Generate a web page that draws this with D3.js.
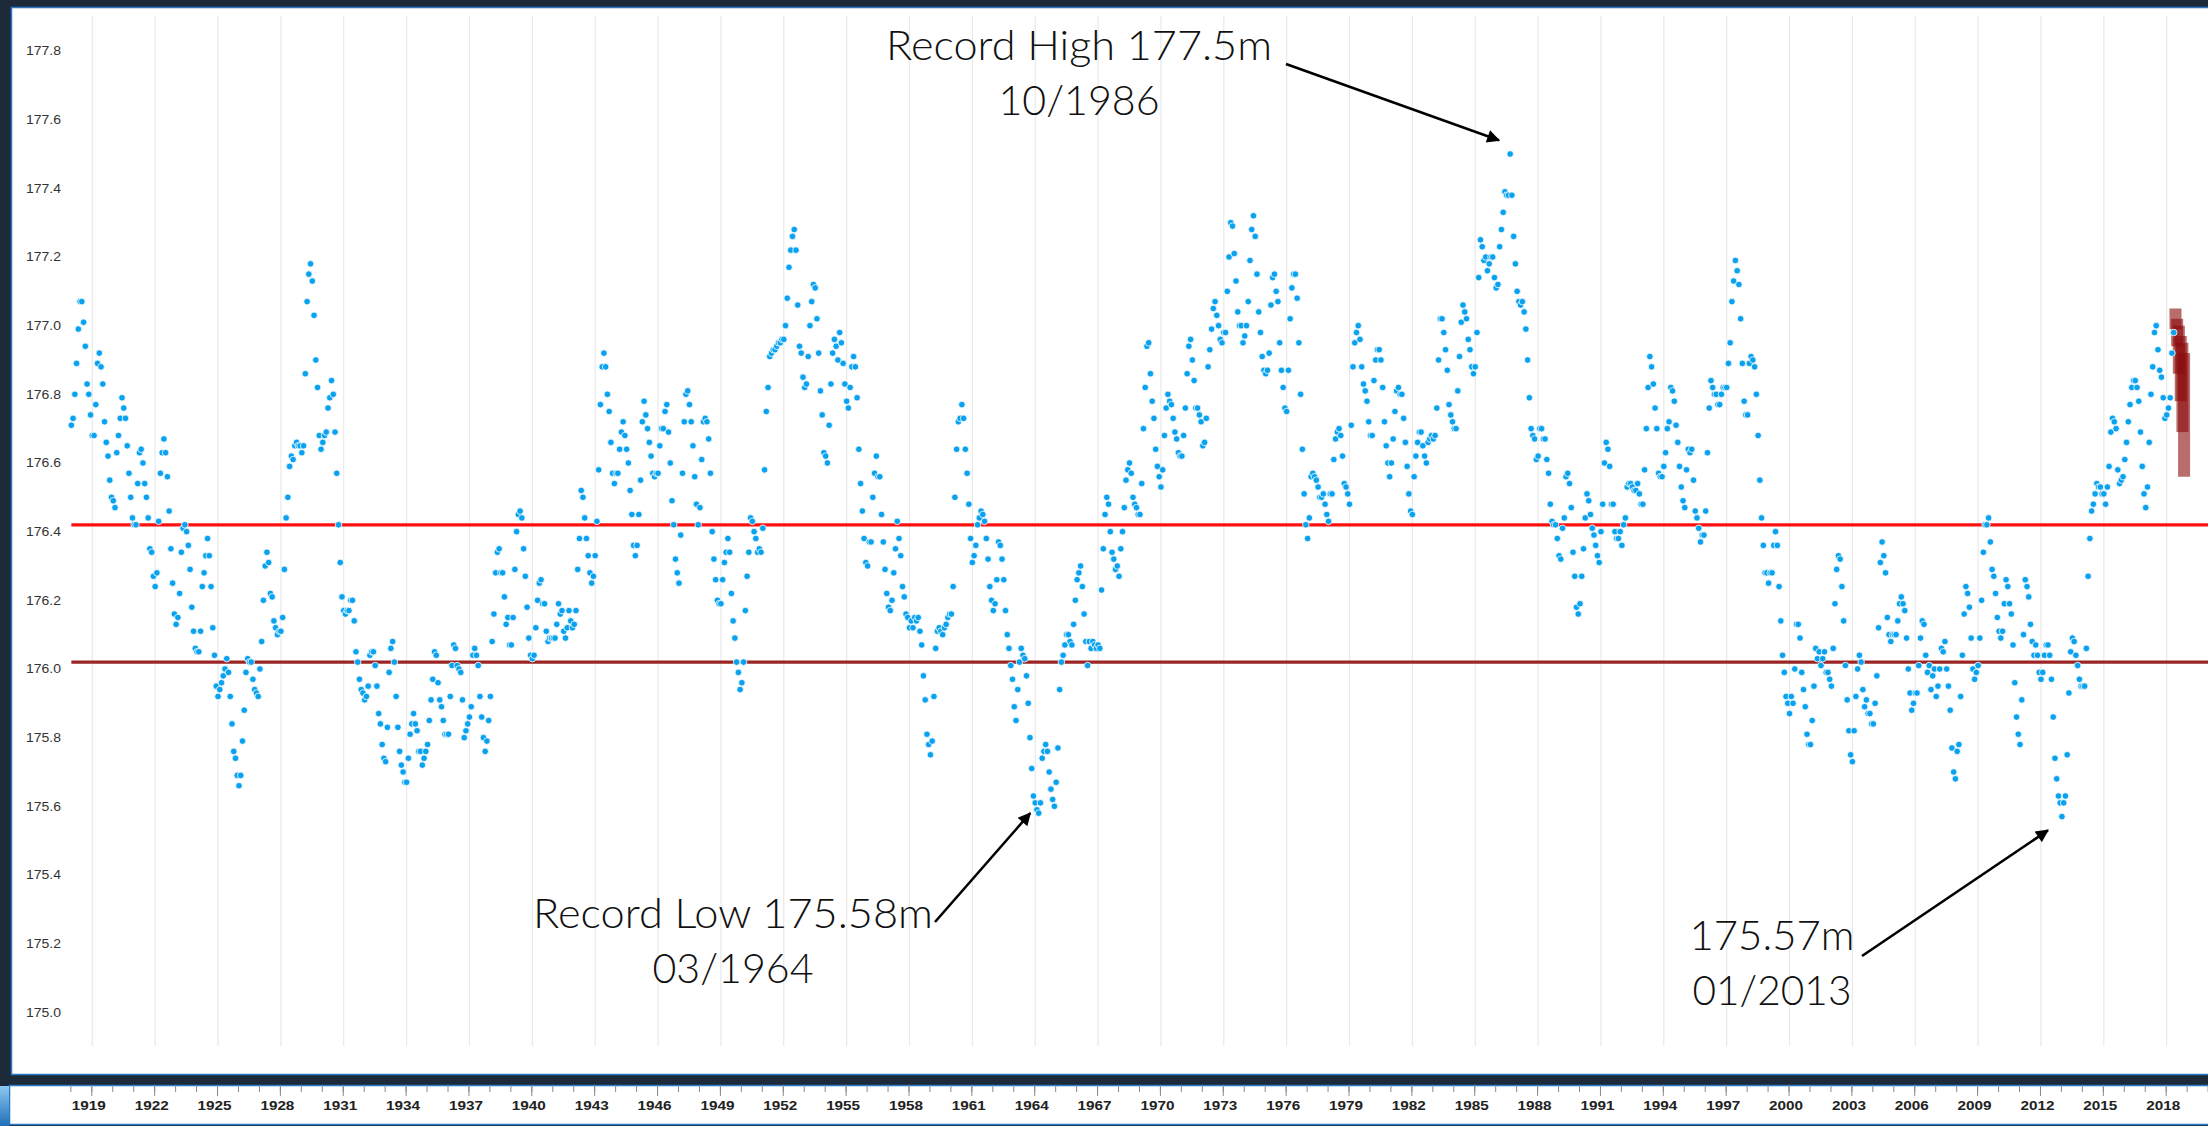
<!DOCTYPE html>
<html>
<head>
<meta charset="utf-8">
<script src="https://cdn.jsdelivr.net/npm/d3@7"></script>
<style>
  html, body { margin: 0; padding: 0; background: #1d2a3a; }
  svg { display: block; }
</style>
</head>
<body>
<script>
// monthly mean water level (m), one row per year, Jan..Dec
var levels1910s = [ // 1918-1919
  [176.71,176.73,176.80,176.89,176.99,177.07,177.07,177.01,176.94,176.83,176.80,176.74],
  [176.68,176.68,176.77,176.89,176.92,176.88,176.83,176.72,176.66,176.62,176.55,176.50]
];
var levels1920s = [
  [176.49,176.47,176.63,176.68,176.73,176.79,176.76,176.73,176.65,176.57,176.50,176.44],
  [176.42,176.42,176.54,176.63,176.64,176.60,176.54,176.50,176.44,176.35,176.34,176.27],
  [176.24,176.28,176.43,176.57,176.63,176.67,176.63,176.56,176.46,176.35,176.25,176.16],
  [176.13,176.15,176.22,176.34,176.41,176.42,176.40,176.36,176.29,176.18,176.11,176.06],
  [176.05,176.05,176.11,176.24,176.28,176.33,176.38,176.33,176.24,176.12,176.04,175.95],
  [175.92,175.94,175.96,175.98,176.00,176.03,175.99,175.92,175.84,175.76,175.74,175.69],
  [175.66,175.69,175.79,175.88,175.99,176.03,176.02,176.02,175.97,175.94,175.93,175.92],
  [176.00,176.08,176.20,176.30,176.34,176.31,176.22,176.21,176.14,176.12,176.10,176.11],
  [176.11,176.15,176.29,176.44,176.50,176.59,176.62,176.61,176.65,176.66,176.65,176.65],
  [176.63,176.65,176.86,177.07,177.15,177.18,177.13,177.03,176.90,176.82,176.68,176.64]
];
var levels1930s = [
  [176.66,176.68,176.69,176.76,176.79,176.84,176.80,176.69,176.57,176.42,176.31,176.21],
  [176.17,176.16,176.17,176.17,176.20,176.20,176.14,176.05,176.02,175.97,175.94,175.93],
  [175.91,175.92,175.95,176.04,176.05,176.05,176.01,175.95,175.87,175.84,175.78,175.74],
  [175.73,175.83,175.99,176.06,176.08,176.02,175.92,175.83,175.76,175.72,175.70,175.67],
  [175.67,175.74,175.81,175.84,175.87,175.84,175.82,175.76,175.76,175.72,175.74,175.76],
  [175.78,175.85,175.91,175.97,176.05,176.04,175.96,175.91,175.89,175.85,175.81,175.81],
  [175.81,175.92,176.01,176.07,176.06,176.01,176.00,175.99,175.91,175.80,175.82,175.84],
  [175.86,175.89,176.04,176.06,176.04,176.01,175.92,175.86,175.80,175.76,175.79,175.85],
  [175.92,176.08,176.16,176.28,176.34,176.35,176.28,176.28,176.21,176.13,176.15,176.07],
  [176.07,176.15,176.29,176.40,176.45,176.46,176.44,176.35,176.27,176.18,176.09,176.04]
];
var levels1940s = [
  [176.03,176.04,176.12,176.20,176.25,176.26,176.19,176.19,176.11,176.08,176.09,176.09],
  [176.09,176.09,176.13,176.19,176.16,176.17,176.11,176.09,176.12,176.17,176.14,176.12],
  [176.13,176.17,176.29,176.38,176.52,176.50,176.44,176.38,176.33,176.28,176.25,176.27],
  [176.33,176.43,176.58,176.77,176.88,176.92,176.88,176.80,176.75,176.66,176.57,176.54],
  [176.57,176.57,176.64,176.69,176.72,176.68,176.64,176.60,176.52,176.45,176.36,176.33],
  [176.36,176.45,176.55,176.72,176.78,176.74,176.70,176.66,176.62,176.57,176.56,176.57],
  [176.57,176.65,176.70,176.70,176.75,176.77,176.69,176.60,176.49,176.42,176.32,176.28],
  [176.25,176.39,176.57,176.72,176.80,176.81,176.77,176.72,176.65,176.56,176.48,176.42],
  [176.47,176.61,176.72,176.73,176.72,176.67,176.57,176.40,176.32,176.26,176.20,176.19],
  [176.19,176.26,176.31,176.34,176.38,176.34,176.22,176.14,176.09,176.02,175.99,175.94]
];
var levels1950s = [
  [175.96,176.02,176.17,176.27,176.34,176.44,176.43,176.40,176.38,176.34,176.35,176.34],
  [176.41,176.58,176.75,176.82,176.91,176.92,176.93,176.93,176.94,176.95,176.95,176.96],
  [176.96,177.00,177.08,177.17,177.22,177.26,177.28,177.22,177.06,176.94,176.92,176.85],
  [176.82,176.83,176.91,177.00,177.07,177.12,177.11,177.02,176.92,176.81,176.74,176.63],
  [176.62,176.60,176.71,176.83,176.92,176.96,176.94,176.90,176.98,176.95,176.89,176.83],
  [176.78,176.76,176.82,176.88,176.91,176.88,176.79,176.64,176.54,176.46,176.38,176.31],
  [176.30,176.37,176.37,176.50,176.57,176.62,176.56,176.56,176.45,176.37,176.29,176.22],
  [176.18,176.17,176.20,176.28,176.35,176.43,176.38,176.33,176.24,176.21,176.16,176.15],
  [176.12,176.14,176.12,176.15,176.14,176.15,176.11,176.07,175.98,175.91,175.81,175.78],
  [175.75,175.79,175.92,176.06,176.11,176.12,176.11,176.10,176.12,176.13,176.15,176.16]
];
var levels1960s = [
  [176.16,176.24,176.50,176.64,176.72,176.73,176.77,176.73,176.64,176.57,176.48,176.38],
  [176.31,176.33,176.36,176.42,176.44,176.46,176.45,176.43,176.38,176.32,176.24,176.20],
  [176.17,176.19,176.26,176.37,176.36,176.32,176.26,176.17,176.10,176.06,176.01,175.97],
  [175.89,175.85,175.94,176.02,176.06,176.04,176.03,175.98,175.90,175.80,175.71,175.63],
  [175.61,175.59,175.58,175.61,175.74,175.76,175.78,175.76,175.70,175.65,175.62,175.60],
  [175.67,175.77,175.94,176.02,176.04,176.07,176.10,176.10,176.08,176.07,176.13,176.20],
  [176.26,176.28,176.30,176.24,176.16,176.08,176.01,176.08,176.06,176.08,176.07,176.06],
  [176.07,176.06,176.23,176.35,176.45,176.50,176.48,176.40,176.34,176.32,176.29,176.30],
  [176.27,176.35,176.40,176.47,176.55,176.58,176.60,176.57,176.50,176.48,176.47,176.45],
  [176.45,176.54,176.70,176.82,176.94,176.95,176.86,176.78,176.73,176.64,176.59,176.56]
];
var levels1970s = [
  [176.53,176.58,176.68,176.76,176.80,176.78,176.77,176.73,176.69,176.67,176.63,176.62],
  [176.62,176.68,176.76,176.86,176.94,176.96,176.90,176.84,176.76,176.76,176.74,176.72],
  [176.65,176.66,176.73,176.88,176.93,176.99,177.05,177.07,177.03,177.00,176.96,176.95],
  [176.98,176.98,177.10,177.20,177.30,177.29,177.21,177.13,177.04,177.00,177.00,176.95],
  [176.97,177.00,177.07,177.19,177.28,177.32,177.26,177.15,177.04,176.98,176.91,176.87],
  [176.86,176.87,176.92,177.06,177.14,177.15,177.10,177.07,176.95,176.87,176.82,176.76],
  [176.75,176.87,177.02,177.11,177.15,177.15,177.08,176.95,176.80,176.64,176.51,176.42],
  [176.38,176.44,176.56,176.57,176.56,176.55,176.53,176.50,176.50,176.51,176.48,176.45],
  [176.43,176.51,176.51,176.61,176.67,176.69,176.70,176.68,176.62,176.54,176.53,176.51],
  [176.48,176.71,176.88,176.95,176.98,177.00,176.96,176.88,176.83,176.81,176.78,176.72]
];
var levels1980s = [
  [176.68,176.68,176.84,176.90,176.93,176.93,176.90,176.82,176.72,176.65,176.60,176.56],
  [176.60,176.67,176.75,176.81,176.82,176.80,176.80,176.73,176.66,176.59,176.51,176.46],
  [176.45,176.56,176.62,176.66,176.69,176.69,176.65,176.62,176.60,176.66,176.67,176.68],
  [176.67,176.68,176.76,176.90,177.02,177.02,176.98,176.93,176.87,176.77,176.74,176.72],
  [176.70,176.70,176.81,176.91,177.01,177.06,177.04,177.02,176.96,176.93,176.88,176.86],
  [176.88,176.98,177.14,177.25,177.23,177.19,177.20,177.16,177.18,177.20,177.20,177.14],
  [177.11,177.12,177.23,177.28,177.33,177.39,177.38,177.38,177.50,177.38,177.26,177.18],
  [177.10,177.07,177.06,177.07,177.04,176.99,176.90,176.79,176.70,176.68,176.67,176.61],
  [176.62,176.70,176.70,176.67,176.67,176.61,176.57,176.48,176.43,176.42,176.42,176.38],
  [176.33,176.32,176.41,176.44,176.56,176.57,176.54,176.47,176.34,176.27,176.18,176.16]
];
var levels1990s = [
  [176.19,176.27,176.35,176.44,176.51,176.49,176.45,176.41,176.39,176.36,176.33,176.31],
  [176.40,176.48,176.60,176.66,176.64,176.59,176.48,176.48,176.40,176.38,176.38,176.40],
  [176.36,176.42,176.44,176.53,176.54,176.54,176.53,176.52,176.52,176.54,176.51,176.48],
  [176.48,176.58,176.70,176.82,176.91,176.88,176.83,176.76,176.70,176.57,176.56,176.56],
  [176.59,176.63,176.70,176.72,176.82,176.81,176.78,176.71,176.66,176.59,176.53,176.49],
  [176.47,176.58,176.64,176.63,176.64,176.55,176.46,176.44,176.41,176.37,176.39,176.39],
  [176.46,176.63,176.76,176.84,176.82,176.80,176.80,176.77,176.77,176.80,176.82,176.82],
  [176.82,176.89,176.95,177.07,177.13,177.19,177.16,177.12,177.02,176.89,176.78,176.74],
  [176.74,176.89,176.91,176.90,176.88,176.80,176.68,176.55,176.44,176.36,176.28,176.28],
  [176.25,176.28,176.28,176.36,176.40,176.36,176.24,176.14,176.04,175.99,175.92,175.90]
];
var levels2000s = [
  [175.87,175.92,175.90,176.00,176.13,176.13,176.09,175.99,175.94,175.89,175.81,175.78],
  [175.78,175.85,175.95,176.06,176.03,176.05,176.01,176.03,176.05,175.99,175.99,175.97],
  [175.95,176.06,176.19,176.29,176.33,176.32,176.24,176.14,176.01,175.91,175.82,175.75],
  [175.73,175.82,175.92,176.00,176.04,176.02,175.94,175.89,175.91,175.87,175.87,175.84],
  [175.84,175.90,175.98,176.12,176.31,176.37,176.33,176.28,176.15,176.10,176.08,176.10],
  [176.10,176.10,176.14,176.19,176.21,176.19,176.17,176.09,176.00,175.93,175.88,175.90],
  [175.93,175.93,176.01,176.09,176.14,176.13,176.04,175.99,176.01,175.94,175.98,176.00],
  [175.92,175.95,176.00,176.06,176.05,176.08,176.00,175.95,175.88,175.77,175.70,175.68],
  [175.76,175.78,175.92,176.04,176.16,176.24,176.22,176.18,176.09,176.00,175.97,175.99],
  [176.01,176.09,176.20,176.34,176.42,176.42,176.44,176.37,176.29,176.27,176.22,176.15]
];
var levels2010s = [ // 2010-2018 (2018 through May)
  [176.11,176.09,176.11,176.19,176.26,176.24,176.19,176.16,176.07,175.96,175.86,175.81],
  [175.78,175.91,176.10,176.26,176.24,176.21,176.13,176.08,176.04,176.07,176.04,175.99],
  [175.97,175.99,176.04,176.07,176.07,176.04,175.97,175.86,175.74,175.68,175.63,175.61],
  [175.57,175.61,175.63,175.75,175.93,176.05,176.09,176.08,176.04,176.01,175.97,175.95],
  [175.95,175.95,176.06,176.27,176.38,176.46,176.48,176.51,176.54,176.53,176.53,176.51],
  [176.51,176.48,176.53,176.59,176.69,176.73,176.72,176.70,176.58,176.54,176.55,176.56],
  [176.61,176.66,176.72,176.77,176.82,176.84,176.84,176.82,176.78,176.69,176.59,176.51],
  [176.47,176.53,176.66,176.80,176.88,176.98,177.00,176.93,176.87,176.85,176.79,176.73],
  [176.74,176.76,176.79,176.92,176.98]
];
var decadeStarts = [1918, 1920, 1930, 1940, 1950, 1960, 1970, 1980, 1990, 2000, 2010];
var decadeRows = [levels1910s, levels1920s, levels1930s, levels1940s, levels1950s, levels1960s,
                  levels1970s, levels1980s, levels1990s, levels2000s, levels2010s];

// six month outlook ranges (m), Jun..Nov 2018
var outlookMonths = [2018.42, 2018.50, 2018.58, 2018.67, 2018.75, 2018.83];
var outlookLow  = [176.99, 176.94, 176.86, 176.78, 176.69, 176.56];
var outlookHigh = [177.05, 177.02, 177.00, 176.97, 176.95, 176.92];

// reference levels: long term average, chart datum
var refLevels = [176.42, 176.02];
var refColors = ["#ff1010", "#9b2424"];

var yTicks = [175.0, 175.2, 175.4, 175.6, 175.8, 176.0, 176.2, 176.4, 176.6, 176.8, 177.0, 177.2, 177.4, 177.6, 177.8];
var labelYears = [1919,1922,1925,1928,1931,1934,1937,1940,1943,1946,1949,1952,1955,1958,1961,1964,1967,
                  1970,1973,1976,1979,1982,1985,1988,1991,1994,1997,2000,2003,2006,2009,2012,2015,2018];
var tickYears = d3.range(1918, 2021);

// annotations: arrow tip anchored on the data, text lines
var notes = [
  {lines: ["Record High 177.5m", "10/1986"], tipYear: 1986.13, tipVal: 177.54, textX: 1079, textY: 60, widths: [386, 161], from: [1286, 64]},
  {lines: ["Record Low 175.58m", "03/1964"], tipYear: 1963.76, tipVal: 175.58, textX: 733, textY: 928, widths: [400, 161], from: [935, 922]},
  {lines: ["175.57m", "01/2013"], tipYear: 2012.33, tipVal: 175.53, textX: 1772, textY: 950, widths: [165, 159], from: [1862, 956]}
];

var W = 2208, H = 1126;
var svg = d3.select("body").append("svg").attr("width", W).attr("height", H);

// frame
svg.append("rect").attr("width", W).attr("height", H).attr("fill", "#1d2a3a");
svg.append("rect").attr("x", 11.5).attr("y", 7.5).attr("width", W).attr("height", 1067)
  .attr("fill", "#fff").attr("stroke", "#2b78c6").attr("stroke-width", 1.5);
svg.append("rect").attr("x", 9.5).attr("y", 1085.5).attr("width", W).attr("height", 39)
  .attr("fill", "#fff").attr("stroke", "#2b78c6").attr("stroke-width", 1.5);
var glow = svg.append("defs").append("linearGradient").attr("id", "glow")
  .attr("x1", 0).attr("y1", 0).attr("x2", 0).attr("y2", 1);
glow.append("stop").attr("offset", 0).attr("stop-color", "#8cc8f0");
glow.append("stop").attr("offset", 1).attr("stop-color", "#1f6fb8");
svg.append("rect").attr("x", 0).attr("y", 1086).attr("width", 9).attr("height", 40).attr("fill", "url(#glow)");

var x = d3.scaleLinear().domain([1919, 2018]).range([92.3, 2166.7]);
var y = d3.scaleLinear().domain([175.0, 177.8]).range([1012.3, 51]);

// vertical grid
svg.append("g").selectAll("line").data(labelYears).enter().append("line")
  .attr("x1", d => x(d)).attr("x2", d => x(d))
  .attr("y1", 16).attr("y2", 1046)
  .attr("stroke", "#e9e9e9").attr("stroke-width", 1.2);

// y axis labels
var yAxis = svg.append("g").attr("transform", "translate(64,0)")
  .call(d3.axisLeft(y).tickValues(yTicks).tickSize(0).tickPadding(3).tickFormat(d3.format(".1f")));
yAxis.select(".domain").remove();
yAxis.selectAll("text")
  .attr("font-family", "'Liberation Sans', Arial, sans-serif")
  .attr("font-size", 12).attr("fill", "#333")
  .attr("textLength", 35).attr("lengthAdjust", "spacingAndGlyphs");

// reference lines
svg.append("g").selectAll("line").data(refLevels).enter().append("line")
  .attr("x1", x(1918)).attr("x2", W)
  .attr("y1", d => y(d)).attr("y2", d => y(d))
  .attr("stroke", (d, i) => refColors[i]).attr("stroke-width", 3.2);

// flatten monthly series
var points = [];
decadeRows.forEach(function(rows, k) {
  rows.forEach(function(row, i) {
    row.forEach(function(v, m) {
      points.push({date: decadeStarts[k] + i + m / 12, value: v});
    });
  });
});

// outlook boxes
svg.append("g").selectAll("rect").data(outlookMonths).enter().append("rect")
  .attr("x", d => x(d) - 6).attr("width", 12)
  .attr("y", (d, i) => y(outlookHigh[i]))
  .attr("height", (d, i) => y(outlookLow[i]) - y(outlookHigh[i]))
  .attr("fill", "#8b0a0a").attr("fill-opacity", 0.6);

// level dots
svg.append("g").selectAll("circle").data(points).enter().append("circle")
  .attr("cx", d => x(d.date)).attr("cy", d => y(d.value))
  .attr("r", 3.3)
  .attr("fill", "#0aa2ee").attr("stroke", "#fff").attr("stroke-width", 0.8);

// bottom time axis
var minorAxis = svg.append("g").attr("transform", "translate(-1,1085)")
  .call(d3.axisBottom(x).tickValues(tickYears).tickSize(7).tickFormat(""));
minorAxis.select(".domain").remove();
minorAxis.selectAll("line").attr("stroke", "#8a8a8a");
var majorAxis = svg.append("g").attr("transform", "translate(-1,1085)")
  .call(d3.axisBottom(x).tickValues(labelYears).tickSize(11).tickPadding(5).tickFormat(d3.format("d")));
majorAxis.select(".domain").remove();
majorAxis.selectAll("line").attr("stroke", "#8a8a8a");
majorAxis.selectAll("text")
  .attr("dx", -3)
  .attr("font-family", "'Liberation Sans', Arial, sans-serif")
  .attr("font-weight", "bold").attr("font-size", 12).attr("fill", "#222")
  .attr("textLength", 34).attr("lengthAdjust", "spacingAndGlyphs");

// annotations
svg.append("defs").append("marker").attr("id", "arrow")
  .attr("viewBox", "0 0 10 10").attr("refX", 9).attr("refY", 5)
  .attr("markerWidth", 17).attr("markerHeight", 13).attr("markerUnits", "userSpaceOnUse")
  .attr("orient", "auto")
  .append("path").attr("d", "M0,0L10,5L0,10z").attr("fill", "#000");

var note = svg.append("g").selectAll("g").data(notes).enter().append("g");
note.append("line")
  .attr("x1", d => d.from[0]).attr("y1", d => d.from[1])
  .attr("x2", d => x(d.tipYear)).attr("y2", d => y(d.tipVal))
  .attr("stroke", "#000").attr("stroke-width", 2.6)
  .attr("marker-end", "url(#arrow)");
note.each(function(d) {
  var g = d3.select(this);
  d.lines.forEach(function(t, i) {
    g.append("text")
      .attr("x", d.textX).attr("y", d.textY + i * 55)
      .attr("text-anchor", "middle")
      .attr("font-family", "Lato, 'Open Sans', sans-serif")
      .attr("font-weight", 300).attr("font-size", 42).attr("fill", "#111")
      .attr("textLength", d.widths[i]).attr("lengthAdjust", "spacingAndGlyphs")
      .text(t);
  });
});
</script>
</body>
</html>
